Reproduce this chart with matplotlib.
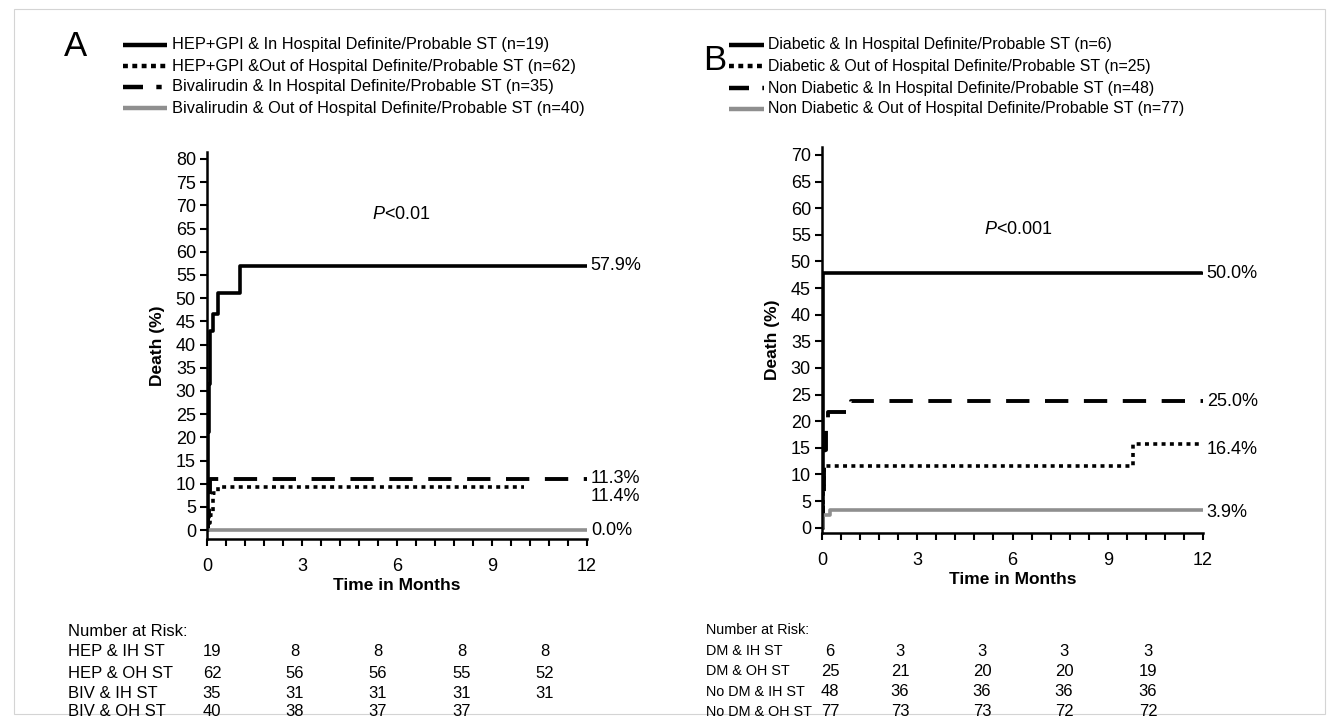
import matplotlib
matplotlib.use('Agg')
import matplotlib.pyplot as plt
from matplotlib.lines import Line2D
from matplotlib.patches import Rectangle

plt.rcParams['font.family'] = ['Liberation Sans', 'DejaVu Sans']
plt.rcParams['mathtext.fontset'] = 'custom'
plt.rcParams['mathtext.it'] = 'Liberation Sans:italic'

W, H = 1338, 722

# ---- panel A data (months, % death) ----
hep_ih_t = [0, 0.02, 0.04, 0.07, 0.1, 0.2, 0.36, 1.04, 12]
hep_ih_v = [0, 5.3, 21.1, 31.6, 42.9, 46.5, 51.2, 56.9, 56.9]
hep_oh_t = [0, 0.03, 0.08, 0.2, 0.35, 10.0]
hep_oh_v = [0, 1.6, 3.2, 8.0, 9.4, 9.4]
biv_ih_t = [0, 0.02, 0.05, 0.1, 12]
biv_ih_v = [0, 2.9, 5.7, 11.0, 11.0]
biv_oh_t = [0, 12]
biv_oh_v = [0, 0]
a_end_labels = ['57.9%', '11.3%', '11.4%', '0.0%']
a_end_y = [57.0, 11.2, 7.2, 0.0]
a_legend = ['HEP+GPI & In Hospital Definite/Probable ST (n=19)',
            'HEP+GPI &Out of Hospital Definite/Probable ST (n=62)',
            'Bivalirudin & In Hospital Definite/Probable ST (n=35)',
            'Bivalirudin & Out of Hospital Definite/Probable ST (n=40)']
a_risk_labels = ['HEP & IH ST', 'HEP & OH ST', 'BIV & IH ST', 'BIV & OH ST']
a_risk = [[19, 8, 8, 8, 8], [62, 56, 56, 55, 52], [35, 31, 31, 31, 31], [40, 38, 37, 37]]

# ---- panel B data ----
dm_ih_t = [0, 0.02, 12]
dm_ih_v = [0, 47.8, 48.0]
dm_oh_t = [0, 0.02, 0.04, 0.06, 9.8, 12]
dm_oh_v = [0, 4.0, 8.0, 11.5, 15.7, 15.7]
ndm_ih_t = [0, 0.02, 0.05, 0.12, 0.18, 0.92, 12]
ndm_ih_v = [0, 6.3, 14.6, 19.6, 21.8, 23.7, 23.7]
ndm_oh_t = [0, 0.02, 0.25, 12]
ndm_oh_v = [0, 2.4, 3.4, 3.4]
b_end_labels = ['50.0%', '25.0%', '16.4%', '3.9%']
b_end_y = [47.8, 23.7, 14.6, 2.9]
b_legend = ['Diabetic & In Hospital Definite/Probable ST (n=6)',
            'Diabetic & Out of Hospital Definite/Probable ST (n=25)',
            'Non Diabetic & In Hospital Definite/Probable ST (n=48)',
            'Non Diabetic & Out of Hospital Definite/Probable ST (n=77)']
b_risk_labels = ['DM & IH ST', 'DM & OH ST', 'No DM & IH ST', 'No DM & OH ST']
b_risk = [[6, 3, 3, 3, 3], [25, 21, 20, 20, 19], [48, 36, 36, 36, 36], [77, 73, 73, 72, 72]]

month_ticks = [0, 3, 6, 9, 12]

# line styles for the four curves
GRAY = '#8f8f8f'
styles = [dict(color='black', lw=2.6, ls='-'),
          dict(color='black', lw=2.6, ls=(0, (1.1, 1.2))),
          dict(color='black', lw=2.8, ls=(0, (6, 4))),
          dict(color=GRAY, lw=2.6, ls='-')]


def fx(px):
    return px / W


def fy(py):
    return 1 - py / H


fig = plt.figure(figsize=(W / 100, H / 100), dpi=100)
# faint frame round the whole figure
fig.patches.append(Rectangle((fx(14), fy(714)), (1325 - 14) / W, (714 - 9) / H,
                             transform=fig.transFigure, fill=False, ec='#d4d4d4', lw=0.8))


def panel(left, right, top_px, bottom_px, ylim, ymax_tick, curves, end_labels, end_y, p_text, p_xy):
    ax = fig.add_axes([fx(left), fy(bottom_px), fx(right - left), (bottom_px - top_px) / H])
    for (t, v), st in zip(curves, styles):
        ax.step(t, v, where='post', dash_capstyle='butt', solid_capstyle='butt', **st)
    ax.set_xlim(0, 12)
    ax.set_ylim(*ylim)
    ax.set_yticks(range(0, ymax_tick + 1, 5))
    ax.set_xticks(month_ticks)
    ax.set_xticks([i * 0.6 for i in range(21)], minor=True)
    for s in ['top', 'right']:
        ax.spines[s].set_visible(False)
    for s in ['left', 'bottom']:
        ax.spines[s].set_linewidth(1.8)
    ax.tick_params(axis='both', direction='out', length=5, width=1.5, labelsize=13, pad=3)
    ax.tick_params(axis='x', which='minor', direction='out', length=5, width=1.5)
    ax.tick_params(axis='x', pad=9)
    ax.set_ylabel('Death (%)', fontsize=12.5, fontweight='bold', labelpad=8)
    ax.set_xlabel('Time in Months', fontsize=12.5, fontweight='bold', labelpad=2)
    ax.set_facecolor('none')
    for lab, y in zip(end_labels, end_y):
        ax.text(12.12, y, lab, fontsize=13, va='center', ha='left', clip_on=False)
    ax.text(p_xy[0], p_xy[1], '$\\it{P}$' + p_text, fontsize=13, va='center', ha='left')
    return ax


axA = panel(207, 587, 152, 539, (-1.9, 81.5), 80,
            [(hep_ih_t, hep_ih_v), (hep_oh_t, hep_oh_v), (biv_ih_t, biv_ih_v), (biv_oh_t, biv_oh_v)],
            a_end_labels, a_end_y, '<0.01', (5.2, 68))
axB = panel(822, 1203, 147, 533, (-1.0, 71.5), 70,
            [(dm_ih_t, dm_ih_v), (dm_oh_t, dm_oh_v), (ndm_ih_t, ndm_ih_v), (ndm_oh_t, ndm_oh_v)],
            b_end_labels, b_end_y, '<0.001', (5.1, 56.0))

# ---- legends (drawn in figure pixel space) ----
handle_styles = [dict(color='black', lw=3.2, ls='-'),
                 dict(color='black', lw=3.2, ls=(0, (1.1, 1.0))),
                 dict(color='black', lw=3.2, ls=(0, (4.5, 3.0, 1.2, 3.0))),
                 dict(color=GRAY, lw=3.2, ls='-')]


def legend(letter, letter_xy, hx0, hx1, tx, rows_y, labels, fs):
    fig.text(fx(letter_xy[0]), fy(letter_xy[1]), letter, fontsize=25, va='center', ha='left')
    for y, lab, st in zip(rows_y, labels, handle_styles):
        fig.lines.append(Line2D([fx(hx0), fx(hx1)], [fy(y), fy(y)], transform=fig.transFigure,
                                solid_capstyle='butt', dash_capstyle='butt', **st))
        fig.text(fx(tx), fy(y), lab, fontsize=fs, va='center', ha='left')


legend('A', (64, 47), 123, 167, 172, [45, 66, 87, 108], a_legend, 11.8)
legend('B', (703, 61), 729, 764, 768, [45, 66, 88, 109], b_legend, 11.4)


# ---- number at risk tables ----
def risk_table(x_lab, x_cols, y_head, rows_y, labels, values, fs):
    fig.text(fx(x_lab), fy(y_head), 'Number at Risk:', fontsize=fs, va='center', ha='left')
    for y, lab, vals in zip(rows_y, labels, values):
        fig.text(fx(x_lab), fy(y), lab, fontsize=fs, va='center', ha='left')
        for x, v in zip(x_cols, vals):
            fig.text(fx(x), fy(y), str(v), fontsize=12, va='center', ha='center')


risk_table(68, [212, 295, 378, 462, 545], 632, [652, 673, 693, 712], a_risk_labels, a_risk, 12)
risk_table(706, [830, 900, 982, 1064, 1148], 630, [651, 671, 692, 712], b_risk_labels, b_risk, 10.4)

fig.savefig('out.png', dpi=100)
